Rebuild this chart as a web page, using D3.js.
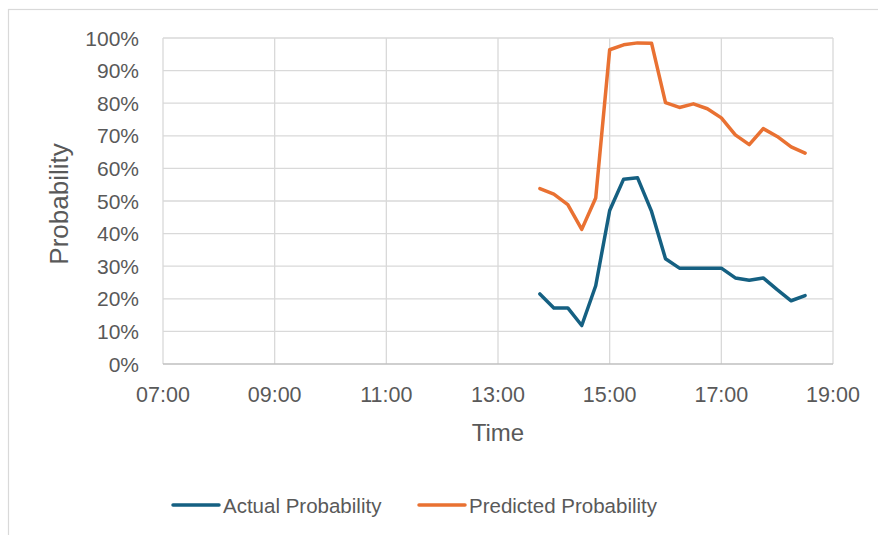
<!DOCTYPE html>
<html>
<head>
<meta charset="utf-8">
<script src="https://cdn.jsdelivr.net/npm/d3@7"></script>
<style>
  html, body { margin: 0; padding: 0; background: #fff; }
  svg { display: block; font-family: "Liberation Sans", Arial, sans-serif; }
</style>
</head>
<body>
<svg id="chart" width="878" height="535"></svg>
<script>
// Sample times (15-minute steps) and the two probability series
const times = ["13:45","14:00","14:15","14:30","14:45","15:00","15:15","15:30","15:45","16:00",
               "16:15","16:30","16:45","17:00","17:15","17:30","17:45","18:00","18:15","18:30"];
const actual = [0.215,0.172,0.172,0.118,0.240,0.471,0.567,0.571,0.468,0.323,
                0.294,0.294,0.294,0.294,0.264,0.257,0.264,0.228,0.194,0.210];
const predicted = [0.538,0.521,0.489,0.413,0.509,0.964,0.979,0.985,0.984,0.802,
                   0.787,0.798,0.783,0.755,0.703,0.673,0.722,0.698,0.666,0.647];
const xTicks = ["07:00","09:00","11:00","13:00","15:00","17:00","19:00"];
const yTicks = [0,0.1,0.2,0.3,0.4,0.5,0.6,0.7,0.8,0.9,1.0];
const seriesNames = ["Actual Probability", "Predicted Probability"];
const seriesColors = ["#156082", "#E97132"];

const toHours = s => { const [h, m] = s.split(":").map(Number); return h + m / 60; };

const svg = d3.select("#chart");
const plot = { left: 163, right: 833, top: 38, bottom: 364 };

// Outer chart frame
svg.append("rect")
  .attr("x", 8.5).attr("y", 9.5).attr("width", 900).attr("height", 600)
  .attr("fill", "none").attr("stroke", "#D9D9D9").attr("stroke-width", 1.2);

const x = d3.scaleLinear()
  .domain([toHours(xTicks[0]), toHours(xTicks[xTicks.length - 1])])
  .range([plot.left, plot.right]);
const y = d3.scaleLinear().domain([0, 1]).range([plot.bottom, plot.top]);

// Horizontal gridlines
svg.append("g").selectAll("line").data(yTicks.slice(1)).join("line")
  .attr("x1", plot.left).attr("x2", plot.right)
  .attr("y1", d => y(d)).attr("y2", d => y(d))
  .attr("stroke", "#D9D9D9").attr("stroke-width", 1.3);

// Vertical gridlines
svg.append("g").selectAll("line").data(xTicks).join("line")
  .attr("x1", d => x(toHours(d))).attr("x2", d => x(toHours(d)))
  .attr("y1", plot.top).attr("y2", plot.bottom)
  .attr("stroke", "#D9D9D9").attr("stroke-width", 1.3);

// Baseline
svg.append("line")
  .attr("x1", plot.left).attr("x2", plot.right)
  .attr("y1", y(0)).attr("y2", y(0))
  .attr("stroke", "#BFBFBF").attr("stroke-width", 1.3);

// Y tick labels
const fmtPct = d3.format(".0%");
svg.append("g").selectAll("text").data(yTicks).join("text")
  .attr("x", 139).attr("y", d => y(d) + 7.5)
  .attr("text-anchor", "end")
  .attr("font-size", 21).attr("fill", "#595959")
  .text(d => fmtPct(d));

// X tick labels
svg.append("g").selectAll("text").data(xTicks).join("text")
  .attr("x", d => x(toHours(d))).attr("y", 402)
  .attr("text-anchor", "middle")
  .attr("font-size", 21.5).attr("fill", "#595959")
  .text(d => d);

// Axis titles
svg.append("text")
  .attr("x", (plot.left + plot.right) / 2).attr("y", 441)
  .attr("text-anchor", "middle")
  .attr("font-size", 24).attr("fill", "#595959")
  .text("Time");
svg.append("text")
  .attr("transform", `translate(68,${(plot.top + plot.bottom) / 2 + 3}) rotate(-90)`)
  .attr("text-anchor", "middle")
  .attr("font-size", 26).attr("fill", "#595959")
  .text("Probability");

// Series lines
const line = d3.line()
  .x((d, i) => x(toHours(times[i])))
  .y(d => y(d));
[actual, predicted].forEach((vals, k) => {
  svg.append("path")
    .datum(vals)
    .attr("d", line)
    .attr("fill", "none")
    .attr("stroke", seriesColors[k])
    .attr("stroke-width", 3.5)
    .attr("stroke-linejoin", "round")
    .attr("stroke-linecap", "round");
});

// Legend
const legendItems = [{ x: 173, name: seriesNames[0], color: seriesColors[0] },
                     { x: 419, name: seriesNames[1], color: seriesColors[1] }];
const lg = svg.append("g").selectAll("g").data(legendItems).join("g")
  .attr("transform", d => `translate(${d.x},505)`);
lg.append("line")
  .attr("x1", 0).attr("x2", 46).attr("y1", 0).attr("y2", 0)
  .attr("stroke", d => d.color).attr("stroke-width", 3.5)
  .attr("stroke-linecap", "round");
lg.append("text")
  .attr("x", 50).attr("y", 7.5)
  .attr("font-size", 20.5).attr("fill", "#595959")
  .text(d => d.name);
</script>
</body>
</html>
